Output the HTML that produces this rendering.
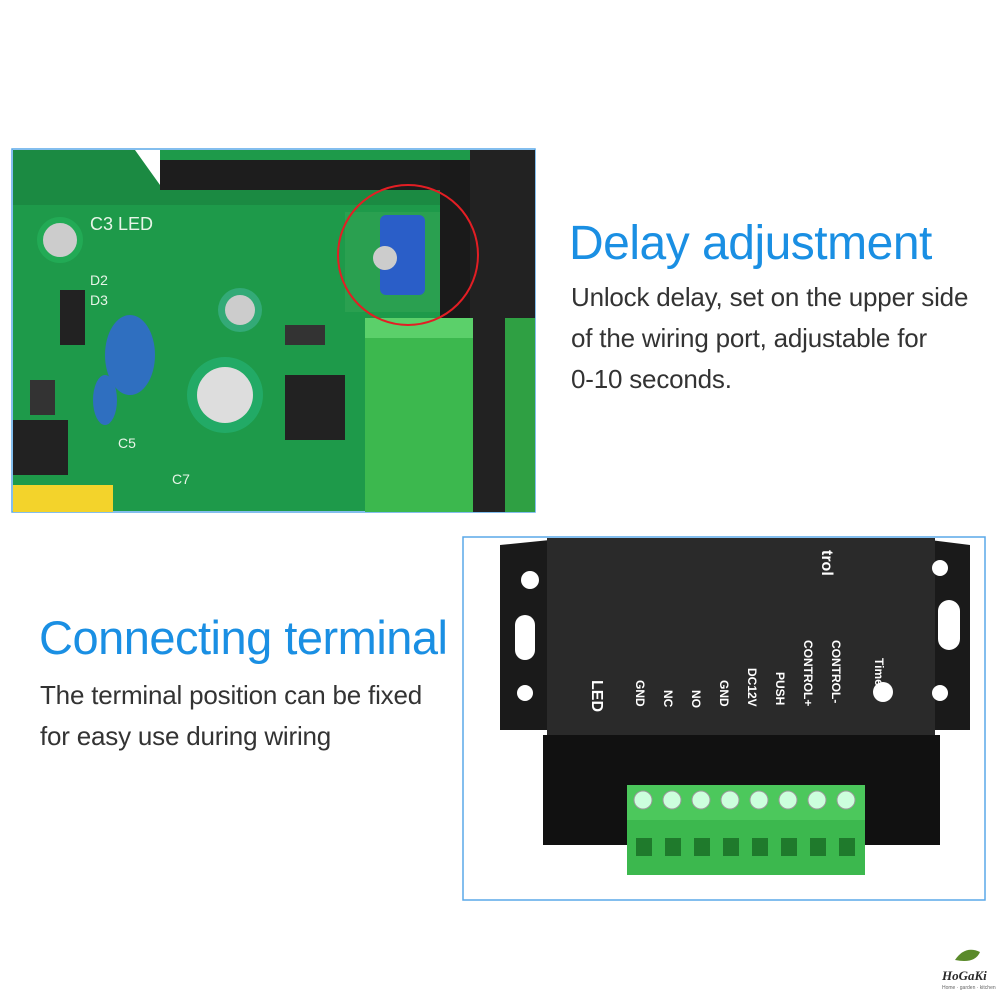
<!DOCTYPE html>
<html><head><meta charset="utf-8"><style>
html,body{margin:0;padding:0;background:#fff;}
body{width:1000px;height:1000px;position:relative;overflow:hidden;font-family:"Liberation Sans",sans-serif;}
.t{position:absolute;color:#1a8fe3;font-size:48px;letter-spacing:-0.5px;white-space:nowrap;}
.p{position:absolute;color:#333;font-size:26px;line-height:41px;white-space:nowrap;letter-spacing:-0.2px;}
</style></head><body>
<svg width="1000" height="1000" style="position:absolute;left:0;top:0">
<rect x="12" y="149" width="523" height="363" fill="#fff" stroke="#5aa8e8" stroke-width="1.5"/>
<rect x="13" y="150" width="521" height="361" fill="#1e9a4a"/>
<polygon points="13,150 135,150 160,185 440,185 440,205 13,205" fill="#1b8a42"/>
<polygon points="135,150 160,185 160,150" fill="#fff"/>
<rect x="160" y="160" width="375" height="30" fill="#1d1d1d"/>
<rect x="440" y="160" width="95" height="352" fill="#1a1a1a"/>
<rect x="470" y="150" width="65" height="362" fill="#222"/>
<rect x="365" y="318" width="108" height="194" fill="#3cb84e"/>
<rect x="365" y="318" width="108" height="20" fill="#5bd06a"/>
<rect x="505" y="318" width="30" height="194" fill="#2fa043"/>
<circle cx="60" cy="240" r="20" fill="#ccc" stroke="#2a5" stroke-width="6"/>
<ellipse cx="130" cy="355" rx="25" ry="40" fill="#2f6fc0"/>
<ellipse cx="105" cy="400" rx="12" ry="25" fill="#2f6fc0"/>
<circle cx="225" cy="395" r="38" fill="#2a6" /><circle cx="225" cy="395" r="28" fill="#ddd"/>
<circle cx="240" cy="310" r="22" fill="#3a7"/><circle cx="240" cy="310" r="15" fill="#ccc"/>
<rect x="285" y="375" width="60" height="65" fill="#222"/>
<rect x="285" y="325" width="40" height="20" fill="#333"/>
<rect x="60" y="290" width="25" height="55" fill="#222"/>
<rect x="30" y="380" width="25" height="35" fill="#333"/>
<rect x="13" y="485" width="100" height="27" fill="#f3d32b"/>
<rect x="13" y="420" width="55" height="55" fill="#222"/>
<rect x="345" y="212" width="95" height="100" fill="#2aa050"/>
<rect x="380" y="215" width="45" height="80" fill="#2a5ec8" rx="6"/>
<circle cx="385" cy="258" r="12" fill="#ccc"/>
<circle cx="408" cy="255" r="70" fill="none" stroke="#e31e24" stroke-width="2"/>
<g fill="#e8f5e8" font-family="Liberation Sans" font-size="18"><text x="90" y="230">C3 LED</text><text x="90" y="285" font-size="14">D2</text><text x="90" y="305" font-size="14">D3</text><text x="118" y="448" font-size="14">C5</text><text x="172" y="484" font-size="14">C7</text></g>
<rect x="463" y="537" width="522" height="363" fill="#fff" stroke="#5aa8e8" stroke-width="1.5"/>
<polygon points="500,545 550,540 550,730 500,730" fill="#1a1a1a"/>
<polygon points="930,540 970,545 970,730 930,730" fill="#1a1a1a"/>
<rect x="547" y="538" width="388" height="200" fill="#2a2a2a"/>
<rect x="543" y="735" width="397" height="110" fill="#111"/>
<circle cx="530" cy="580" r="9" fill="#fff"/><circle cx="525" cy="693" r="8" fill="#fff"/>
<circle cx="940" cy="568" r="8" fill="#fff"/><circle cx="940" cy="693" r="8" fill="#fff"/>
<rect x="515" y="615" width="20" height="45" rx="10" fill="#fff"/>
<rect x="938" y="600" width="22" height="50" rx="11" fill="#fff"/>
<rect x="627" y="785" width="238" height="90" fill="#3cb84e"/>
<rect x="627" y="785" width="238" height="35" fill="#4cc85c"/>
<g fill="#1f7a2c">
<rect x="636" y="838" width="16" height="18"/><rect x="665" y="838" width="16" height="18"/><rect x="694" y="838" width="16" height="18"/><rect x="723" y="838" width="16" height="18"/><rect x="752" y="838" width="16" height="18"/><rect x="781" y="838" width="16" height="18"/><rect x="810" y="838" width="16" height="18"/><rect x="839" y="838" width="16" height="18"/></g>
<g fill="#cfd" stroke="#999"><circle cx="643" cy="800" r="9"/><circle cx="672" cy="800" r="9"/><circle cx="701" cy="800" r="9"/><circle cx="730" cy="800" r="9"/><circle cx="759" cy="800" r="9"/><circle cx="788" cy="800" r="9"/><circle cx="817" cy="800" r="9"/><circle cx="846" cy="800" r="9"/></g>
<g fill="#fff" font-family="Liberation Sans" font-size="12" font-weight="bold">
<text transform="translate(592,680) rotate(90)" font-size="16">LED</text>
<text transform="translate(636,680) rotate(90)">GND</text>
<text transform="translate(664,690) rotate(90)">NC</text>
<text transform="translate(692,690) rotate(90)">NO</text>
<text transform="translate(720,680) rotate(90)">GND</text>
<text transform="translate(748,668) rotate(90)">DC12V</text>
<text transform="translate(776,672) rotate(90)">PUSH</text>
<text transform="translate(804,640) rotate(90)">CONTROL+</text>
<text transform="translate(832,640) rotate(90)">CONTROL-</text>
<text transform="translate(875,658) rotate(90)">Time</text>
<text transform="translate(822,550) rotate(90)" font-size="16">trol</text></g>
<circle cx="883" cy="692" r="10" fill="#fff"/>
<path d="M955 960 q10 -15 25 -8 q-5 12 -25 8z" fill="#5a8a2a"/>
<text x="942" y="980" font-family="Liberation Serif" font-style="italic" font-weight="bold" font-size="13" fill="#2a2a2a">HoGaKi</text>
<text x="942" y="989" font-family="Liberation Sans" font-size="5" fill="#666">Home · garden · kitchen</text>
</svg>
<div class="t" style="left:569px;top:216px">Delay adjustment</div>
<div class="p" style="left:571px;top:277px">Unlock delay, set on the upper side<br>of the wiring port, adjustable for<br>0-10 seconds.</div>
<div class="t" style="left:39px;top:610px;font-size:47px">Connecting terminal</div>
<div class="p" style="left:40px;top:675px">The terminal position can be fixed<br>for easy use during wiring</div>
</body></html>
